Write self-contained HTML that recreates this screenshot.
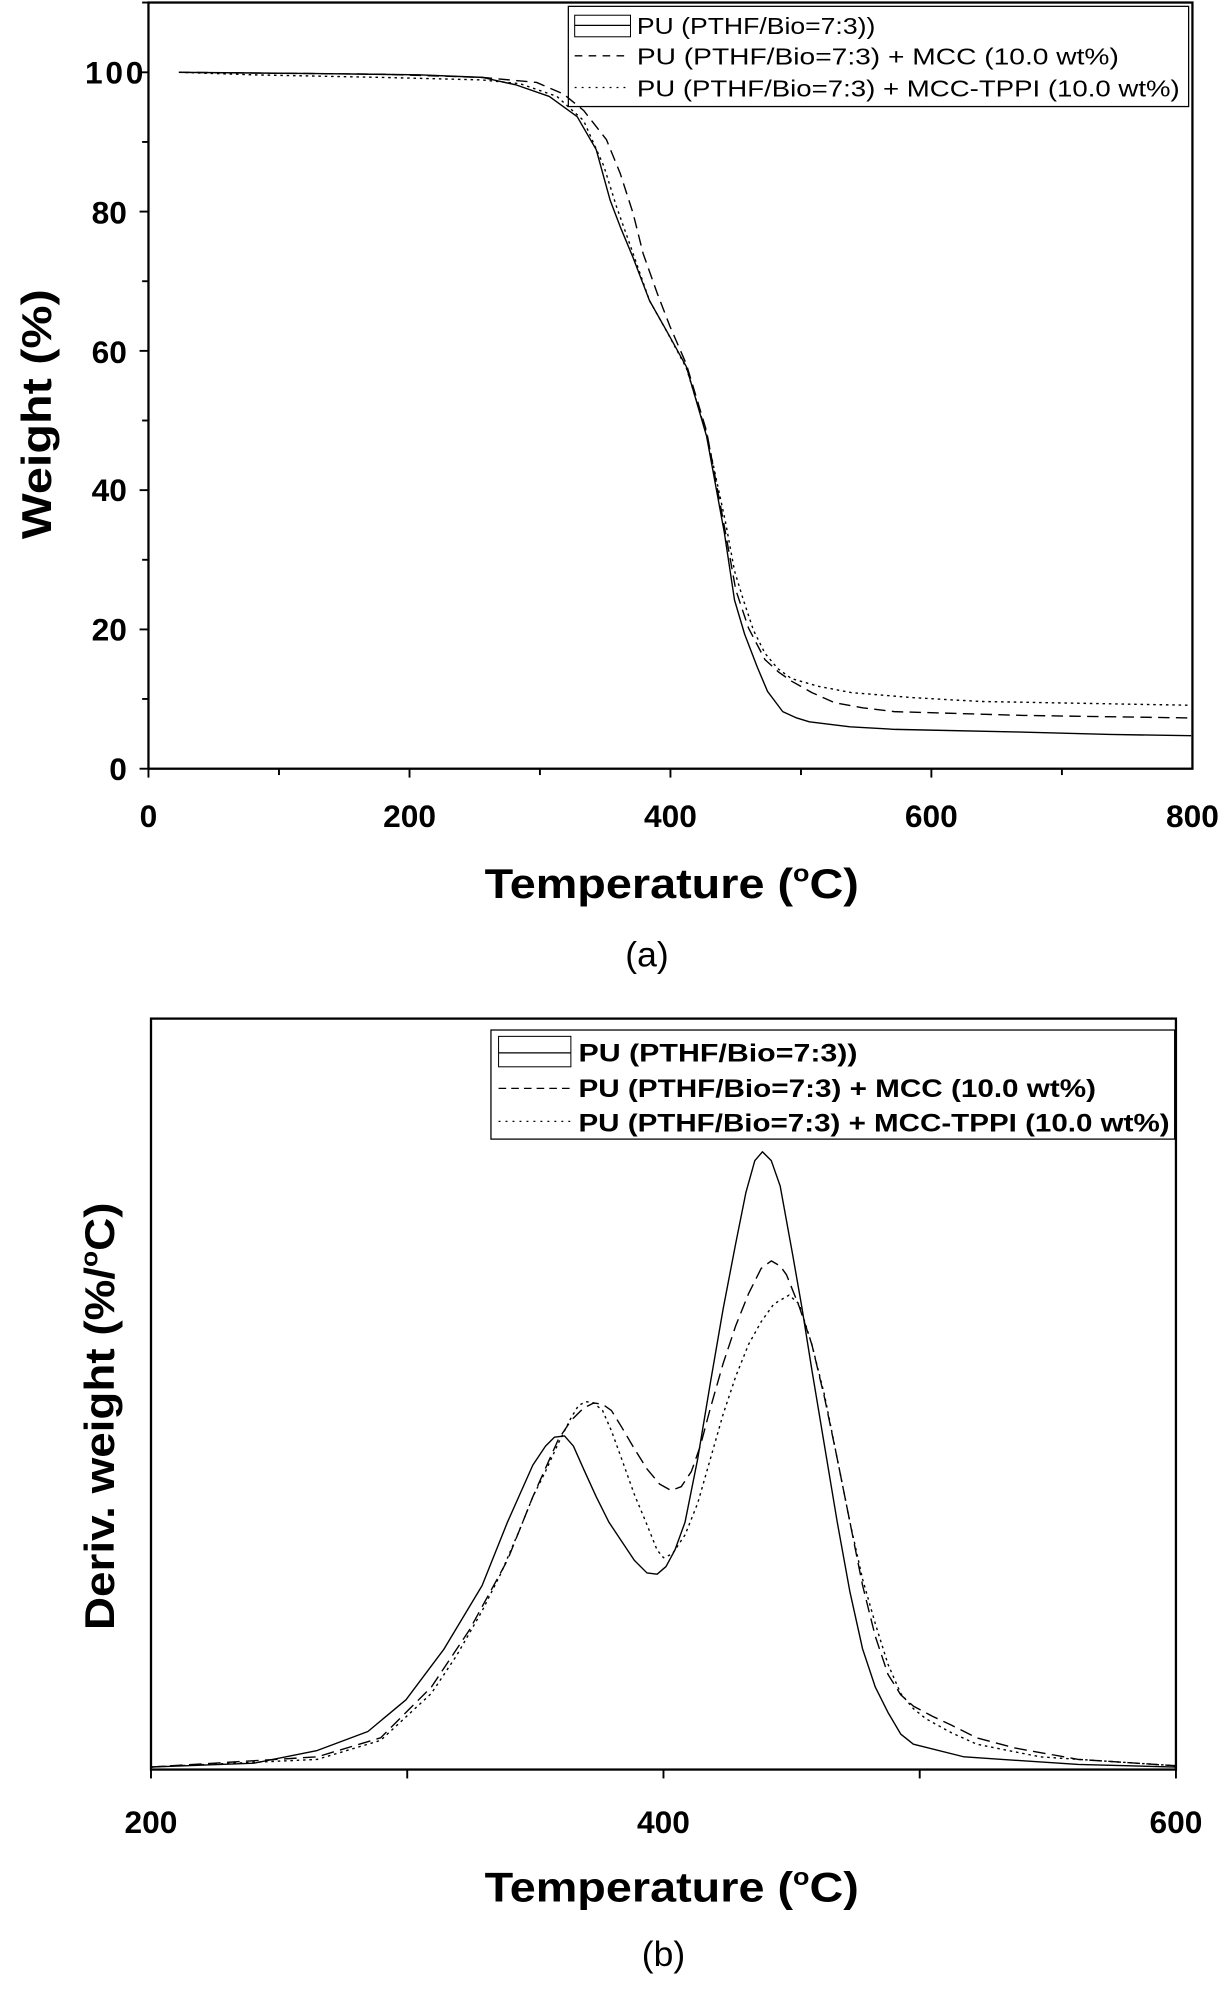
<!DOCTYPE html>
<html><head><meta charset="utf-8"><style>
html,body{margin:0;padding:0;background:#fff;}
svg{display:block;}
text{font-family:"Liberation Sans",Arial,sans-serif;fill:#000;}
.b{font-weight:bold;}
</style></head><body>
<svg width="1228" height="1989" viewBox="0 0 968 1568" xmlns="http://www.w3.org/2000/svg">
<!-- Top plot -->
<rect x="117" y="2" width="823" height="604" fill="none" stroke="#000" stroke-width="1.8"/>
<g stroke="#000" stroke-width="1.5">
<line x1="117" y1="606" x2="117" y2="613"/><line x1="219.9" y1="606" x2="219.9" y2="611"/>
<line x1="322.8" y1="606" x2="322.8" y2="613"/><line x1="425.6" y1="606" x2="425.6" y2="611"/>
<line x1="528.5" y1="606" x2="528.5" y2="613"/><line x1="631.4" y1="606" x2="631.4" y2="611"/>
<line x1="734.2" y1="606" x2="734.2" y2="613"/><line x1="837.1" y1="606" x2="837.1" y2="611"/>
<line x1="117" y1="606" x2="110" y2="606"/><line x1="117" y1="551" x2="112" y2="551"/>
<line x1="117" y1="496.2" x2="110" y2="496.2"/><line x1="117" y1="441.3" x2="112" y2="441.3"/>
<line x1="117" y1="386.4" x2="110" y2="386.4"/><line x1="117" y1="331.5" x2="112" y2="331.5"/>
<line x1="117" y1="276.6" x2="110" y2="276.6"/><line x1="117" y1="221.7" x2="112" y2="221.7"/>
<line x1="117" y1="166.8" x2="110" y2="166.8"/><line x1="117" y1="111.9" x2="112" y2="111.9"/>
<line x1="117" y1="57" x2="110" y2="57"/><line x1="117" y1="2" x2="112" y2="2"/>
</g>
<g font-size="25" text-anchor="end" class="b">
<text x="100" y="615" class="b">0</text><text x="100" y="505" class="b">20</text>
<text x="100" y="395" class="b">40</text><text x="100" y="286" class="b">60</text>
<text x="100" y="176" class="b">80</text><text x="113" y="66" class="b" textLength="46">100</text>
</g>
<g font-size="25" text-anchor="middle">
<text x="117" y="652" class="b">0</text><text x="322.8" y="652" class="b">200</text>
<text x="528.5" y="652" class="b">400</text><text x="734.2" y="652" class="b">600</text>
<text x="940" y="652" class="b">800</text>
</g>
<text x="382" y="708" font-size="33" class="b" textLength="295" lengthAdjust="spacingAndGlyphs">Temperature (<tspan font-size="19" dy="-13">o</tspan><tspan dy="13">C)</tspan></text>
<text x="510" y="762" font-size="28" text-anchor="middle">(a)</text>
<text transform="translate(40,425) rotate(-90)" font-size="33" class="b" textLength="197" lengthAdjust="spacingAndGlyphs">Weight (%)</text>
<rect x="448" y="5" width="489" height="79" fill="#fff" stroke="#000" stroke-width="1"/>
<line x1="453" y1="20" x2="497" y2="20" stroke="#000"/>
<rect x="453" y="12" width="44" height="17" fill="none" stroke="#000" stroke-width="0.8"/>
<line x1="453" y1="44" x2="497" y2="44" stroke="#000" stroke-dasharray="6,5"/>
<line x1="453" y1="69" x2="497" y2="69" stroke="#000" stroke-dasharray="1.5,4"/>
<g font-size="18">
<text x="502" y="27" textLength="188" lengthAdjust="spacingAndGlyphs">PU (PTHF/Bio=7:3))</text>
<text x="502" y="51" textLength="380" lengthAdjust="spacingAndGlyphs">PU (PTHF/Bio=7:3) + MCC (10.0 wt%)</text>
<text x="502" y="76" textLength="428" lengthAdjust="spacingAndGlyphs">PU (PTHF/Bio=7:3) + MCC-TPPI (10.0 wt%)</text>
</g>
<g fill="none" stroke="#000" stroke-width="1.1" stroke-linejoin="round">
<polyline points="141,57 250,58 330,59 380,61 407,67 433,76 455,92 470,118 481,158 489,179 499,203 512,237 525,260 541,289 557,344 571,420 579,473 587,500 597,526 605,545 617,561 628,566 638,569 670,573 706,575 800,577 875,579 939,580"/>
<polyline stroke-dasharray="9,5" points="141,57 300,58.5 380,61 423,65 444,74 460,87 478,110 489,137 499,168 507,200 518,231 528,257 541,287 557,340 571,415 580,465 590,495 603,520 614,530 624,537 640,546 658,554 680,558 705,561 807,564 939,566"/>
<polyline stroke-dasharray="2,3" points="141,57 200,59 300,61 380,63 410,66 439,76 460,95 476,131 486,163 497,194 512,237 526,262 541,290 557,342 572,412 579,450 586,473 594,497 603,515 613,527 624,535 645,541 671,546 720,550 773,553 939,556"/>
</g>

<!-- Bottom plot -->
<rect x="119" y="803" width="808" height="592" fill="none" stroke="#000" stroke-width="1.8"/>
<g stroke="#000" stroke-width="1.5">
<line x1="119" y1="1395" x2="119" y2="1402"/><line x1="321" y1="1395" x2="321" y2="1402"/>
<line x1="523" y1="1395" x2="523" y2="1402"/><line x1="725" y1="1395" x2="725" y2="1402"/>
<line x1="927" y1="1395" x2="927" y2="1402"/>
</g>
<g font-size="25" text-anchor="middle">
<text x="119" y="1445" class="b">200</text><text x="523" y="1445" class="b">400</text><text x="927" y="1445" class="b">600</text>
</g>
<text x="382" y="1499" font-size="33" class="b" textLength="295" lengthAdjust="spacingAndGlyphs">Temperature (<tspan font-size="19" dy="-13">o</tspan><tspan dy="13">C)</tspan></text>
<text x="523" y="1550" font-size="28" text-anchor="middle">(b)</text>
<text transform="translate(90,1285) rotate(-90)" font-size="33" class="b" textLength="337" lengthAdjust="spacingAndGlyphs">Deriv. weight (%/<tspan font-size="19" dy="-13">o</tspan><tspan dy="13">C)</tspan></text>
<rect x="387" y="812" width="539" height="86" fill="#fff" stroke="#000" stroke-width="1"/>
<line x1="393" y1="830" x2="450" y2="830" stroke="#000"/>
<rect x="393" y="817" width="57" height="24" fill="none" stroke="#000" stroke-width="0.8"/>
<line x1="393" y1="858" x2="450" y2="858" stroke="#000" stroke-dasharray="6,4"/>
<line x1="393" y1="884" x2="450" y2="884" stroke="#000" stroke-dasharray="1.5,4"/>
<g font-size="20" class="b">
<text x="456" y="837" class="b" textLength="220" lengthAdjust="spacingAndGlyphs">PU (PTHF/Bio=7:3))</text>
<text x="456" y="865" class="b" textLength="408" lengthAdjust="spacingAndGlyphs">PU (PTHF/Bio=7:3) + MCC (10.0 wt%)</text>
<text x="456" y="892" class="b" textLength="466" lengthAdjust="spacingAndGlyphs">PU (PTHF/Bio=7:3) + MCC-TPPI (10.0 wt%)</text>
</g>
<g fill="none" stroke="#000" stroke-width="1.1" stroke-linejoin="round">
<polyline points="119,1393 200,1390 250,1380 290,1365 320,1340 350,1300 380,1250 400,1200 420,1155 430,1140 437,1133 445,1132 452,1140 460,1158 470,1180 480,1200 490,1215 500,1230 510,1240 518,1241 525,1235 532,1222 540,1200 550,1150 560,1090 570,1032 580,980 588,940 595,915 601,908 608,915 615,935 625,990 632,1030 640,1080 650,1140 660,1200 670,1255 680,1300 690,1330 700,1350 710,1367 720,1375 760,1385 850,1391 927,1393"/>
<polyline stroke-dasharray="10,5" points="119,1393 250,1385 300,1370 340,1330 370,1285 400,1230 420,1180 440,1135 450,1120 460,1110 468,1106 475,1107 482,1112 490,1125 500,1142 510,1158 520,1170 529,1175 537,1172 545,1160 552,1140 560,1110 570,1075 580,1045 590,1020 600,1000 608,994 615,998 620,1005 630,1030 640,1060 650,1102 660,1150 670,1200 680,1250 690,1290 700,1320 710,1336 720,1345 735,1353 750,1360 770,1370 800,1378 850,1387 927,1392"/>
<polyline stroke-dasharray="2,3" points="119,1393 250,1387 300,1372 340,1335 360,1305 380,1270 395,1240 410,1205 420,1180 430,1160 440,1138 450,1118 456,1108 462,1105 468,1106 475,1112 482,1128 490,1150 500,1178 510,1202 518,1222 523,1228 530,1225 540,1210 550,1185 560,1150 570,1115 580,1085 590,1060 600,1042 610,1028 622,1021 630,1028 640,1060 650,1100 660,1150 670,1200 680,1245 690,1280 700,1312 710,1335 720,1347 730,1355 750,1366 770,1375 820,1385 927,1392"/>
</g>
</svg>
</body></html>
